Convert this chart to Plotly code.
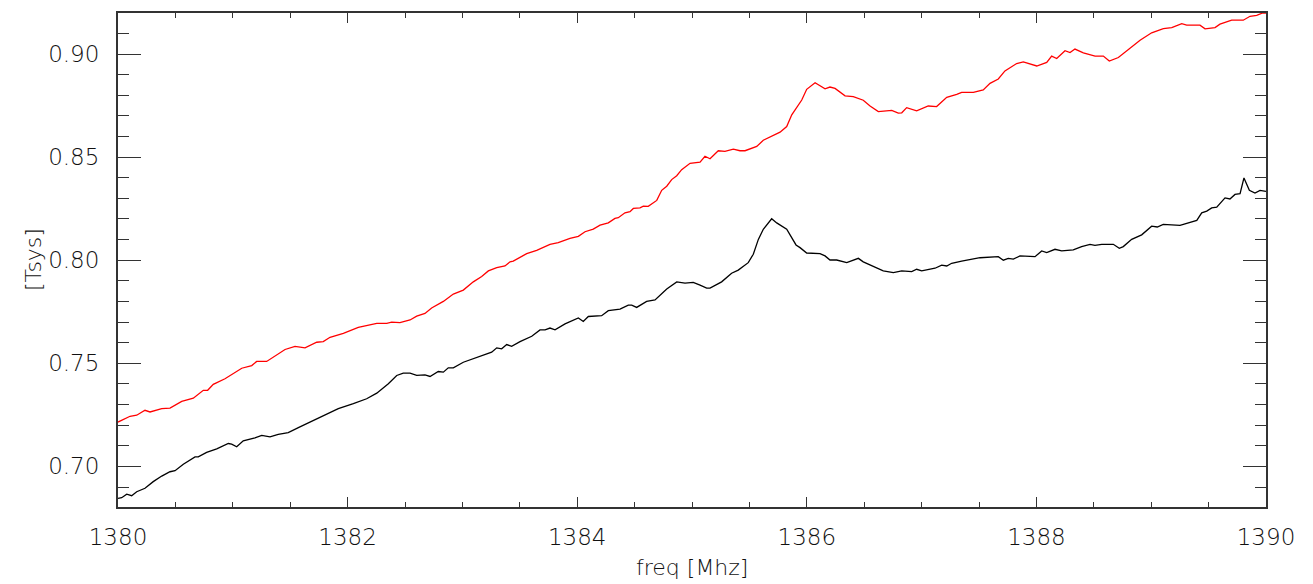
import plotly.graph_objects as go

# Red curve (upper)
red_freq = [1380.00, 1380.105, 1380.163, 1380.235, 1380.279, 1380.381, 1380.453, 1380.555, 1380.656, 1380.743,
            1380.781, 1380.830, 1380.932, 1381.004, 1381.078, 1381.165, 1381.208, 1381.295, 1381.455, 1381.542,
            1381.629, 1381.731, 1381.788, 1381.847, 1381.963, 1382.093, 1382.254, 1382.341, 1382.384, 1382.456,
            1382.544, 1382.602, 1382.674, 1382.732, 1382.790, 1382.834, 1382.921, 1383.008, 1383.095, 1383.168,
            1383.226, 1383.299, 1383.371, 1383.415, 1383.443, 1383.560, 1383.647, 1383.763, 1383.835, 1383.937,
            1384.010, 1384.068, 1384.140, 1384.199, 1384.271, 1384.329, 1384.358, 1384.416, 1384.460, 1384.489,
            1384.547, 1384.576, 1384.619, 1384.693, 1384.736, 1384.780, 1384.823, 1384.867, 1384.910, 1384.983,
            1385.070, 1385.113, 1385.157, 1385.229, 1385.287, 1385.360, 1385.418, 1385.462, 1385.564, 1385.621,
            1385.767, 1385.825, 1385.869, 1385.956, 1385.999, 1386.072, 1386.159, 1386.202, 1386.246, 1386.333,
            1386.405, 1386.492, 1386.551, 1386.623, 1386.740, 1386.797, 1386.827, 1386.870, 1386.957, 1387.058,
            1387.131, 1387.219, 1387.306, 1387.349, 1387.451, 1387.537, 1387.596, 1387.668, 1387.726, 1387.828,
            1387.886, 1388.003, 1388.090, 1388.133, 1388.177, 1388.249, 1388.293, 1388.336, 1388.409, 1388.511,
            1388.583, 1388.635, 1388.714, 1388.801, 1388.903, 1389.004, 1389.106, 1389.179, 1389.266, 1389.309,
            1389.425, 1389.469, 1389.556, 1389.599, 1389.701, 1389.802, 1389.861, 1389.919, 1389.971, 1390.00]
red_tsys = [0.7215, 0.7243, 0.7248, 0.7272, 0.7264, 0.7280, 0.7283, 0.7315, 0.7331, 0.7369,
            0.7369, 0.7398, 0.7425, 0.7452, 0.7476, 0.7489, 0.7509, 0.7509, 0.7567, 0.7582,
            0.7575, 0.7602, 0.7605, 0.7626, 0.7645, 0.7674, 0.7694, 0.7694, 0.7700, 0.7697,
            0.7710, 0.7729, 0.7742, 0.7768, 0.7787, 0.7800, 0.7836, 0.7855, 0.7895, 0.7921,
            0.7948, 0.7964, 0.7972, 0.7992, 0.7996, 0.8032, 0.8048, 0.8077, 0.8085, 0.8106,
            0.8116, 0.8138, 0.8151, 0.8170, 0.8181, 0.8203, 0.8206, 0.8230, 0.8235, 0.8251,
            0.8254, 0.8262, 0.8261, 0.8290, 0.8339, 0.8359, 0.8391, 0.8410, 0.8439, 0.8470,
            0.8476, 0.8504, 0.8492, 0.8531, 0.8528, 0.8539, 0.8531, 0.8531, 0.8552, 0.8582,
            0.8621, 0.8648, 0.8705, 0.8777, 0.8829, 0.8861, 0.8831, 0.8840, 0.8833, 0.8797,
            0.8793, 0.8776, 0.8748, 0.8721, 0.8727, 0.8713, 0.8715, 0.8740, 0.8724, 0.8748,
            0.8745, 0.8790, 0.8804, 0.8814, 0.8814, 0.8826, 0.8858, 0.8879, 0.8918, 0.8954,
            0.8962, 0.8942, 0.8959, 0.8990, 0.8978, 0.9016, 0.9007, 0.9024, 0.9006, 0.8990,
            0.8990, 0.8966, 0.8983, 0.9022, 0.9067, 0.9103, 0.9123, 0.9128, 0.9147, 0.9140,
            0.9140, 0.9122, 0.9128, 0.9145, 0.9164, 0.9164, 0.9183, 0.9188, 0.9199, 0.9199]

# Black curve (lower)
black_freq = [1380.00, 1380.032, 1380.076, 1380.119, 1380.163, 1380.235, 1380.307, 1380.381, 1380.453, 1380.497,
              1380.569, 1380.671, 1380.699, 1380.772, 1380.860, 1380.961, 1380.990, 1381.034, 1381.091, 1381.193,
              1381.252, 1381.324, 1381.396, 1381.483, 1381.571, 1381.644, 1381.716, 1381.919, 1382.050, 1382.166,
              1382.254, 1382.355, 1382.428, 1382.485, 1382.544, 1382.602, 1382.674, 1382.718, 1382.790, 1382.834,
              1382.877, 1382.921, 1383.008, 1383.095, 1383.153, 1383.255, 1383.299, 1383.342, 1383.386, 1383.429,
              1383.502, 1383.604, 1383.676, 1383.720, 1383.763, 1383.807, 1383.894, 1384.010, 1384.053, 1384.097,
              1384.213, 1384.271, 1384.373, 1384.445, 1384.475, 1384.518, 1384.605, 1384.678, 1384.780, 1384.867,
              1384.939, 1385.011, 1385.070, 1385.128, 1385.157, 1385.200, 1385.258, 1385.345, 1385.403, 1385.490,
              1385.534, 1385.578, 1385.621, 1385.694, 1385.738, 1385.825, 1385.906, 1385.941, 1385.999, 1386.115,
              1386.159, 1386.202, 1386.260, 1386.348, 1386.449, 1386.492, 1386.579, 1386.666, 1386.754, 1386.827,
              1386.914, 1386.957, 1387.001, 1387.117, 1387.175, 1387.219, 1387.262, 1387.349, 1387.509, 1387.668,
              1387.712, 1387.755, 1387.799, 1387.857, 1387.988, 1388.046, 1388.090, 1388.162, 1388.220, 1388.321,
              1388.394, 1388.467, 1388.510, 1388.569, 1388.670, 1388.722, 1388.757, 1388.830, 1388.917, 1389.004,
              1389.053, 1389.105, 1389.251, 1389.309, 1389.367, 1389.397, 1389.440, 1389.484, 1389.527, 1389.571,
              1389.643, 1389.686, 1389.730, 1389.774, 1389.808, 1389.855, 1389.904, 1389.948, 1390.00]
black_tsys = [0.6845, 0.6848, 0.6865, 0.6858, 0.6877, 0.6894, 0.6926, 0.6953, 0.6974, 0.6979,
              0.7010, 0.7046, 0.7046, 0.7068, 0.7085, 0.7111, 0.7108, 0.7095, 0.7124, 0.7138,
              0.7150, 0.7143, 0.7155, 0.7164, 0.7188, 0.7208, 0.7228, 0.7280, 0.7304, 0.7328,
              0.7355, 0.7401, 0.7441, 0.7452, 0.7452, 0.7441, 0.7444, 0.7436, 0.7460, 0.7457,
              0.7478, 0.7478, 0.7505, 0.7522, 0.7534, 0.7554, 0.7575, 0.7570, 0.7591, 0.7582,
              0.7605, 0.7631, 0.7662, 0.7662, 0.7671, 0.7662, 0.7691, 0.7720, 0.7703, 0.7727,
              0.7731, 0.7755, 0.7763, 0.7782, 0.7782, 0.7771, 0.7800, 0.7807, 0.7860, 0.7895,
              0.7889, 0.7892, 0.7879, 0.7865, 0.7865, 0.7879, 0.7895, 0.7937, 0.7952, 0.7988,
              0.8029, 0.8101, 0.8150, 0.8201, 0.8181, 0.8150, 0.8074, 0.8061, 0.8035, 0.8032,
              0.8021, 0.8001, 0.8001, 0.7988, 0.8009, 0.7992, 0.7969, 0.7948, 0.7940, 0.7948,
              0.7945, 0.7956, 0.7948, 0.7961, 0.7976, 0.7972, 0.7985, 0.7996, 0.8012, 0.8017,
              0.8000, 0.8009, 0.8005, 0.8021, 0.8017, 0.8045, 0.8037, 0.8053, 0.8045, 0.8050,
              0.8066, 0.8077, 0.8072, 0.8077, 0.8077, 0.8058, 0.8066, 0.8101, 0.8123, 0.8165,
              0.8161, 0.8174, 0.8169, 0.8179, 0.8190, 0.8193, 0.8230, 0.8238, 0.8254, 0.8257,
              0.8302, 0.8297, 0.8319, 0.8323, 0.8399, 0.8339, 0.8326, 0.8339, 0.8334]

x_tick_vals = [1380, 1382, 1384, 1386, 1388, 1390]
x_tick_text = ["1380", "1382", "1384", "1386", "1388", "1390"]
y_tick_vals = [0.70, 0.75, 0.80, 0.85, 0.90]
y_tick_text = ["0.70", "0.75", "0.80", "0.85", "0.90"]

font_family = "DejaVu Sans"
axis_color = "#333333"
text_color = "#111111"

fig = go.Figure()
fig.add_trace(go.Scatter(x=black_freq, y=black_tsys, mode="lines",
                         line=dict(color="#000000", width=1.3), showlegend=False))
fig.add_trace(go.Scatter(x=red_freq, y=red_tsys, mode="lines",
                         line=dict(color="#ff0000", width=1.3), showlegend=False))

fig.update_layout(
    width=1305, height=576,
    margin=dict(l=110, r=47, t=3, b=77),
    paper_bgcolor="white", plot_bgcolor="white",
    font=dict(family=font_family, size=22, color=text_color, weight=200),
    xaxis=dict(
        range=[1380, 1390], tickvals=x_tick_vals, ticktext=x_tick_text,
        ticks="inside", ticklen=10, tickwidth=1.3, tickcolor=axis_color,
        showline=True, linecolor=axis_color, linewidth=2, mirror="allticks",
        showgrid=False, zeroline=False,
        tickfont=dict(size=23, color=text_color, weight=200), ticklabelstandoff=8,
        minor=dict(dtick=0.5, ticks="inside", ticklen=5, tickwidth=1.2, tickcolor=axis_color, showgrid=False),
    ),
    yaxis=dict(
        range=[0.6803, 0.9199], tickvals=y_tick_vals, ticktext=y_tick_text,
        ticks="inside", ticklen=23, tickwidth=1.3, tickcolor=axis_color,
        showline=True, linecolor=axis_color, linewidth=2, mirror="allticks",
        showgrid=False, zeroline=False,
        tickfont=dict(size=23, color=text_color, weight=200), ticklabelstandoff=12,
        minor=dict(dtick=0.01, ticks="inside", ticklen=11, tickwidth=1.2, tickcolor=axis_color, showgrid=False),
    ),
    annotations=[
        dict(text="freq [Mhz]", xref="paper", yref="paper", x=0.5, y=0,
             xanchor="center", yanchor="middle", yshift=-60, showarrow=False,
             font=dict(size=22, color=text_color, weight=200)),
        dict(text="[Tsys]", xref="paper", yref="paper", x=0, y=0.5,
             xanchor="center", yanchor="middle", xshift=-85, textangle=-90, showarrow=False,
             font=dict(size=22, color=text_color, weight=200)),
    ],
)

fig.write_html("out.html")
